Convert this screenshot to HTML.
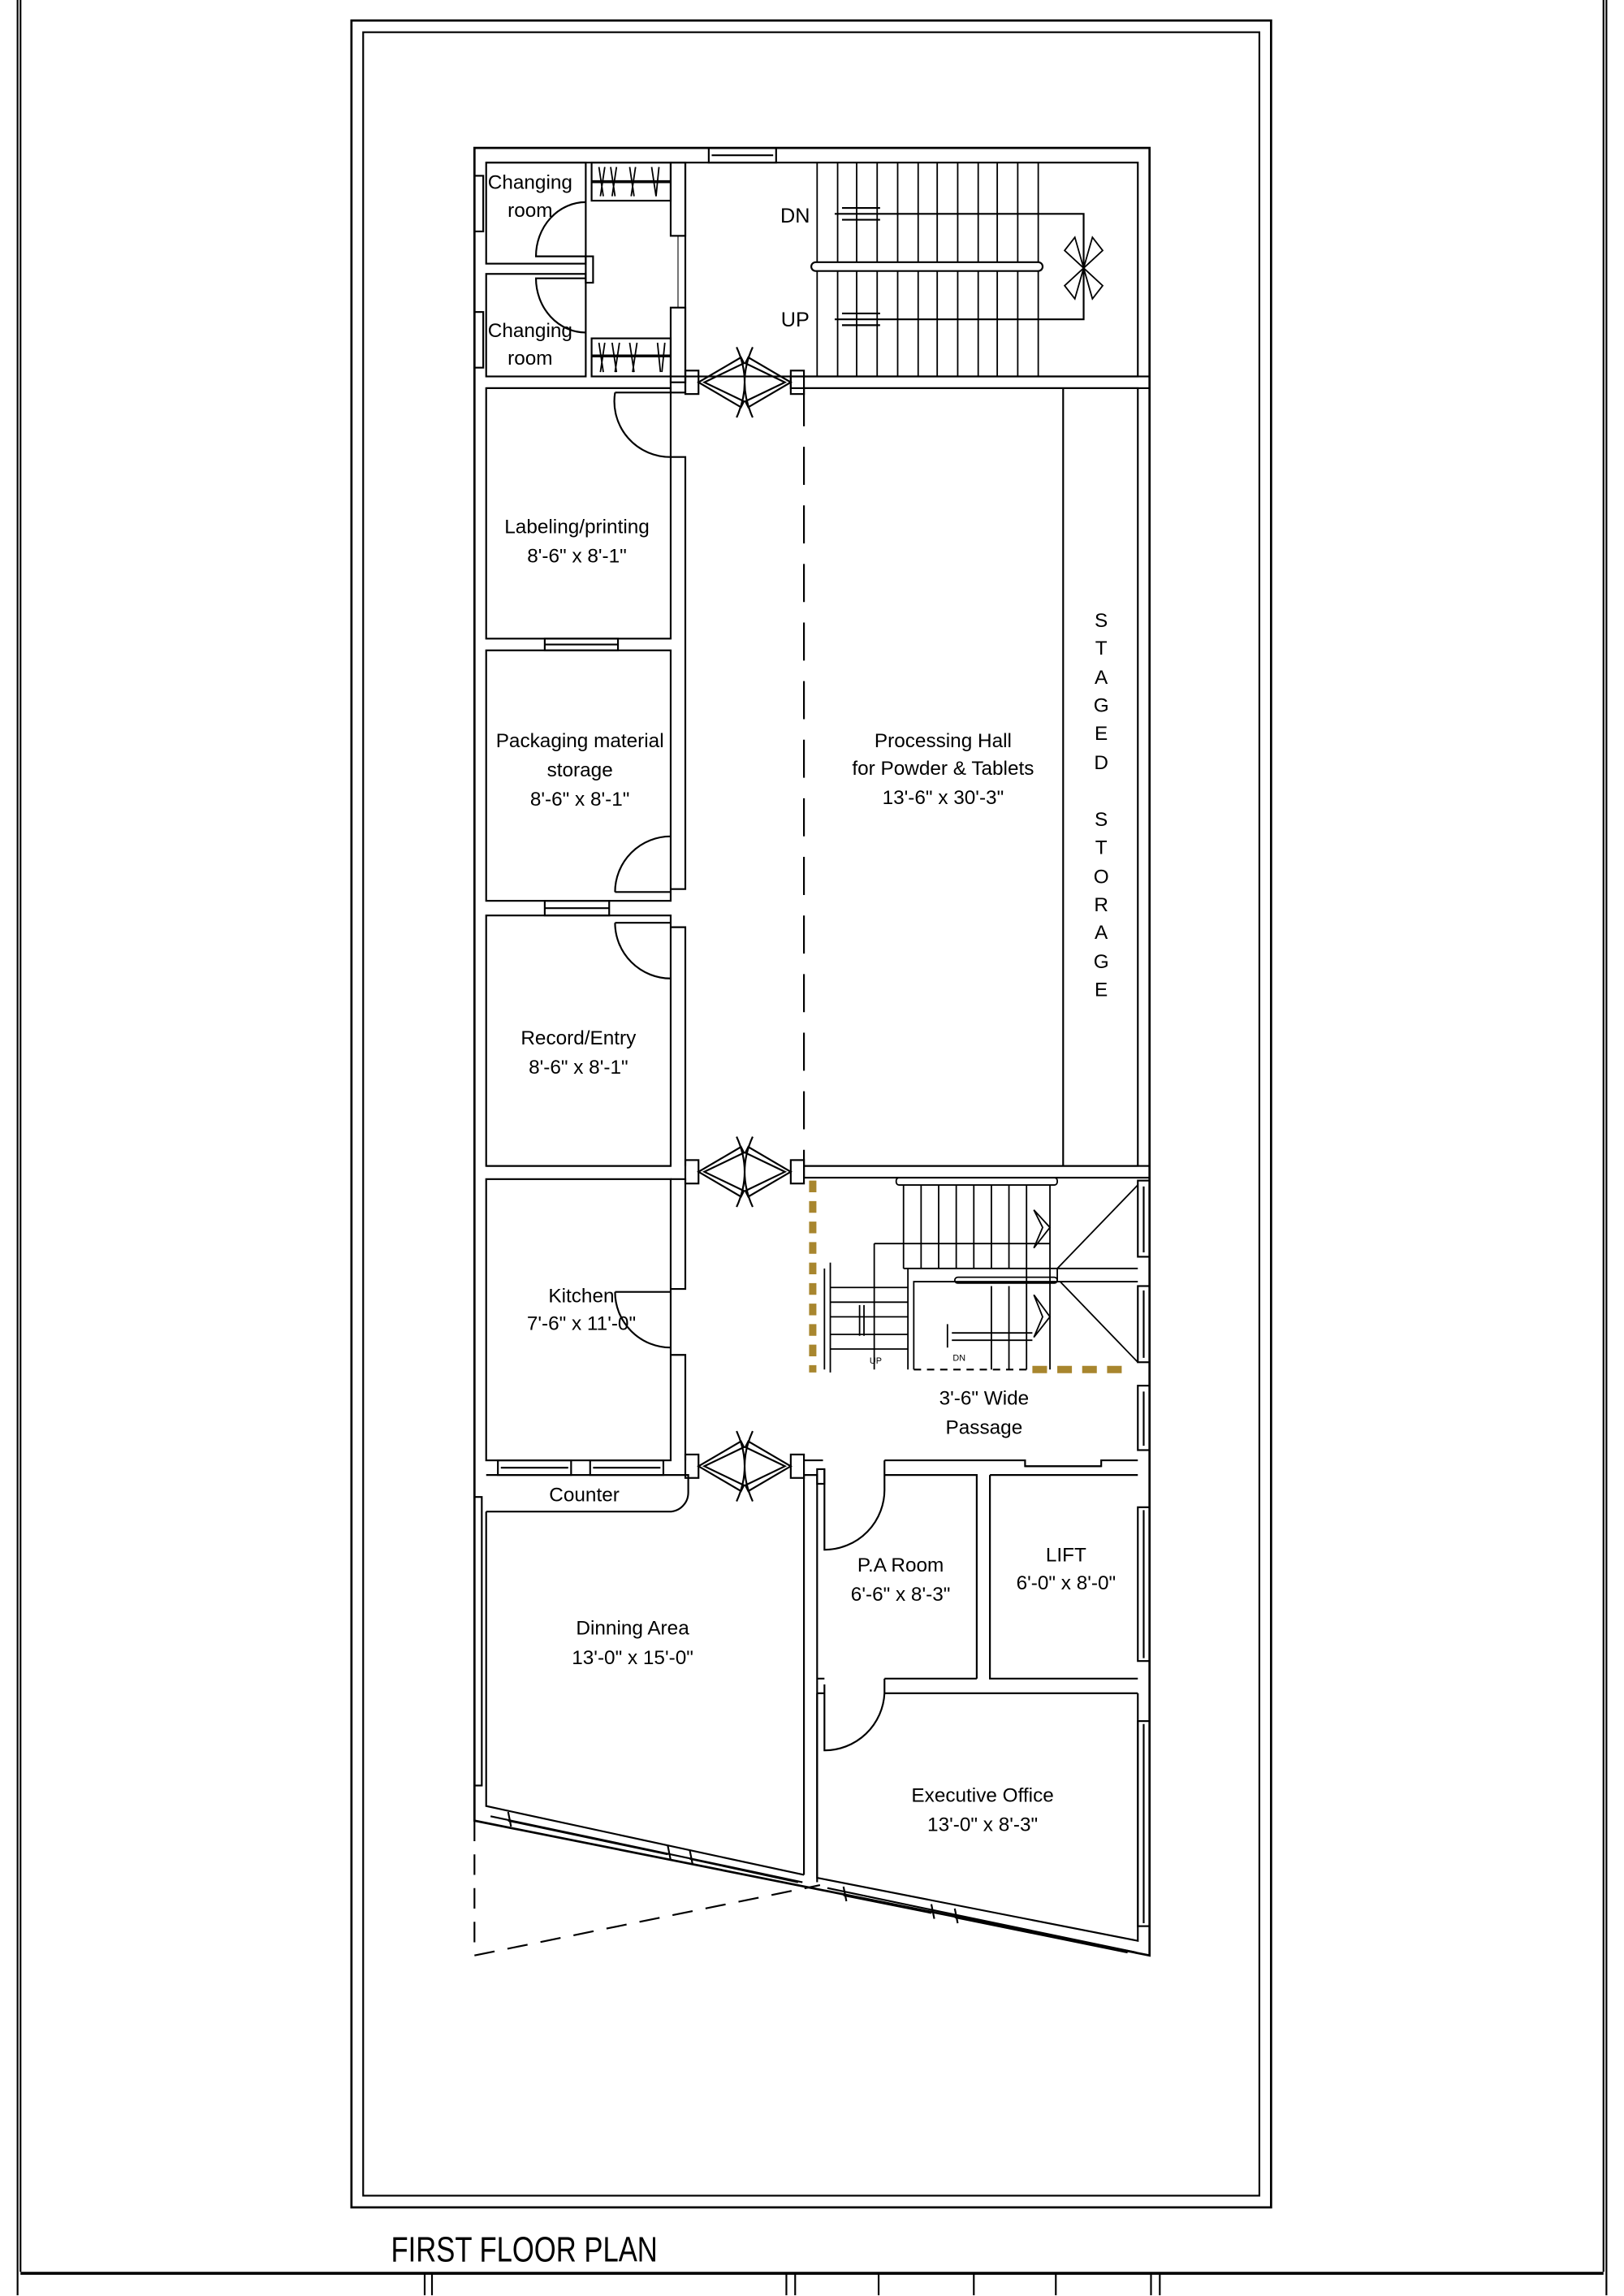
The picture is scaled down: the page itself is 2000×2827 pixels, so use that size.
<!DOCTYPE html>
<html><head><meta charset="utf-8"><style>
html,body{margin:0;padding:0;background:#fff}
svg{display:block}
text{font-family:"Liberation Sans",sans-serif;font-size:13.5px;fill:#000;text-anchor:middle}
</style></head><body>
<svg width="2000" height="2827" viewBox="0 0 1109 1567.5" preserveAspectRatio="none" xmlns="http://www.w3.org/2000/svg">
<g fill="none" stroke="#000" stroke-width="1.2">
<!-- page borders -->
<line x1="12" y1="0" x2="12" y2="1567"/><line x1="14" y1="0" x2="14" y2="1551"/>
<line x1="1097" y1="0" x2="1097" y2="1567"/><line x1="1095" y1="0" x2="1095" y2="1551"/>
<rect x="240" y="14" width="628" height="1493" stroke-width="1.5"/>
<rect x="248" y="22" width="612" height="1477"/>
<!-- title block -->
<line x1="14" y1="1552" x2="1095" y2="1552" stroke-width="2"/>
<line x1="290" y1="1552" x2="290" y2="1567"/><line x1="295" y1="1552" x2="295" y2="1567"/>
<line x1="537" y1="1552" x2="537" y2="1567"/><line x1="543" y1="1552" x2="543" y2="1567"/>
<line x1="600" y1="1552" x2="600" y2="1567"/><line x1="665" y1="1552" x2="665" y2="1567"/>
<line x1="721" y1="1552" x2="721" y2="1567"/><line x1="786" y1="1552" x2="786" y2="1567"/>
<line x1="792" y1="1552" x2="792" y2="1567"/>

<!-- building outer wall -->
<path d="M324,101 H785 V1335 L324,1243 Z" stroke-width="1.5"/>
<line x1="332" y1="111" x2="468" y2="111"/>
<!-- changing rooms -->
<rect x="332" y="111" width="68" height="69"/>
<rect x="332" y="187" width="68" height="70"/>
<rect x="404" y="111" width="54" height="26"/>
<rect x="404" y="231" width="54" height="26"/>
<line x1="404" y1="124" x2="458" y2="124" stroke-width="2"/>
<line x1="404" y1="243" x2="458" y2="243" stroke-width="2"/>
<path d="M409,114 l3,20 M413,114 l-3,20 M417,114 l3,20 M421,114 l-3,20 M430,114 l3,20 M434,114 l-3,20 M445,114 l3,20 M450,114 l-2,20 M409,234 l3,20 M413,234 l-3,20 M418,234 l3,20 M423,234 l-3,20 M430,234 l3,20 M435,234 l-3,20 M449,234 l2,20 M454,234 l-2,20" stroke-width="1"/>
<path d="M400,138 A34,37 0 0 0 366,175 H400 M400,227 A34,37 0 0 1 366,190 H400" />
<rect x="400" y="175" width="5" height="18"/>
<!-- changing room windows -->
<rect x="324" y="120" width="6" height="38"/><rect x="324" y="213" width="6" height="38"/>
<!-- top window -->
<rect x="484" y="101" width="46" height="10"/><line x1="486" y1="106" x2="528" y2="106"/>
<!-- corridor wall upper -->
<rect x="458" y="111" width="10" height="50"/>
<rect x="458" y="210" width="10" height="51"/>
<line x1="463" y1="161" x2="463" y2="210" stroke-width="0.6"/>
<!-- stair room -->
<rect x="468" y="111" width="309" height="146"/>
<g stroke-width="1">
<line x1="558" y1="111" x2="558" y2="257"/><line x1="572" y1="111" x2="572" y2="257"/><line x1="585" y1="111" x2="585" y2="257"/><line x1="599" y1="111" x2="599" y2="257"/><line x1="613" y1="111" x2="613" y2="257"/><line x1="627" y1="111" x2="627" y2="257"/><line x1="640" y1="111" x2="640" y2="257"/><line x1="654" y1="111" x2="654" y2="257"/><line x1="668" y1="111" x2="668" y2="257"/><line x1="681" y1="111" x2="681" y2="257"/><line x1="695" y1="111" x2="695" y2="257"/><line x1="709" y1="111" x2="709" y2="257"/>
</g>
<rect x="554" y="179" width="158" height="6" rx="3" fill="#fff"/>
<path d="M570,146 H740 V218 H570"/>
<path d="M575,142 H601 M575,150 H601 M575,214 H601 M575,222 H601"/>
<path d="M740,183 L727,171 L734,162 Z M740,183 L753,171 L746,162 Z M740,183 L727,195 L734,204 Z M740,183 L753,195 L746,204 Z" fill="#fff" stroke-width="1"/>
<!-- wall under stairs -->
<rect x="540" y="257" width="245" height="8"/>
<line x1="332" y1="265" x2="458" y2="265"/>
<rect x="458" y="257" width="10" height="11"/>
<!-- left column rooms -->
<rect x="332" y="265" width="126" height="171"/>
<rect x="332" y="444" width="126" height="171"/>
<rect x="332" y="625" width="126" height="171"/>
<rect x="332" y="805" width="126" height="192"/>
<rect x="372" y="436" width="50" height="8"/><line x1="372" y1="440" x2="422" y2="440"/>
<rect x="372" y="615" width="44" height="10"/><line x1="372" y1="620" x2="416" y2="620"/>
<rect x="340" y="997" width="50" height="10"/><rect x="403" y="997" width="50" height="10"/>
<line x1="342" y1="1002" x2="388" y2="1002"/><line x1="405" y1="1002" x2="451" y2="1002"/>
<!-- corridor wall -->
<path d="M458,312 H468 V607 H458 M458,633 H468 V796 M458,805 H468 V880 H458 M458,925 H468 V997"/>
<!-- doors in corridor -->
<path d="M420,268 H458 M420,268 A38,38 0 0 0 458,312"/>
<path d="M420,609 H458 M420,609 A38,38 0 0 1 458,571"/>
<path d="M420,630 H458 M420,630 A38,38 0 0 0 458,668"/>
<path d="M420,882 H458 M420,882 A38,38 0 0 0 458,920"/>
<!-- double doors -->
<g>
<rect x="468" y="253" width="9" height="16"/><rect x="540" y="253" width="9" height="16"/>
<path d="M477,261 L506,244 L508,248 L481,261 L508,274 L506,278 Z M540,261 L511,244 L509,248 L536,261 L509,274 L511,278 Z"/>
<path d="M503,237 Q514,261 503,285 M514,237 Q503,261 514,285"/>
<rect x="468" y="792" width="9" height="16"/><rect x="540" y="792" width="9" height="16"/>
<path d="M477,800 L506,783 L508,787 L481,800 L508,813 L506,817 Z M540,800 L511,783 L509,787 L536,800 L509,813 L511,817 Z"/>
<path d="M503,776 Q514,800 503,824 M514,776 Q503,800 514,824"/>
<rect x="468" y="993" width="9" height="16"/><rect x="540" y="993" width="9" height="16"/>
<path d="M477,1001 L506,984 L508,988 L481,1001 L508,1014 L506,1018 Z M540,1001 L511,984 L509,988 L536,1001 L509,1014 L511,1018 Z"/>
<path d="M503,977 Q514,1001 503,1025 M514,977 Q503,1001 514,1025"/>
</g>
<!-- processing hall -->
<line x1="549" y1="265" x2="549" y2="796" stroke-dasharray="26,14"/>
<path d="M549,265 H777 V796 H549"/>
<line x1="726" y1="265" x2="726" y2="796"/>
<rect x="549" y="796" width="236" height="8"/>
<line x1="332" y1="796" x2="458" y2="796"/>
<!-- second stair -->
<g stroke-width="1">
<path d="M617,809 V866 M629,809 V866 M641,809 V866 M653,809 V866 M665,809 V866 M677,809 V866 M689,809 V866 M701,809 V935 M717,809 V935 M689,878 V935 M677,878 V935"/>
<rect x="612" y="804" width="110" height="5" rx="2"/>
<rect x="652" y="872" width="70" height="4" rx="2"/>
<path d="M597,849 H717 M617,866 H722 V875 H624 V935 M620,866 V935"/>
<path d="M563,866 V935 M567,862 V937 M567,879 H620 M567,889 H620 M567,899 H620 M567,911 H620 M567,921 H620 M597,849 V935 M587,891 V912 M590,891 V912"/>
<path d="M647,904 V920 M650,910 H705 M650,915 H705"/>
<path d="M706,826 L717,838 L706,852 L712,838 Z M706,884 L717,899 L706,913 L712,899 Z"/>
<path d="M722,866 L777,809 M724,875 L777,930 M722,866 H777 M722,875 H777"/>
</g>
<path d="M624,935 H705" stroke-dasharray="5,4"/>
<g stroke="#a8862e" stroke-width="5" fill="none">
<line x1="555" y1="806" x2="555" y2="937" stroke-dasharray="8,6"/>
<line x1="705" y1="935" x2="770" y2="935" stroke-dasharray="10,7"/>
</g>
<!-- right side windows -->
<rect x="777" y="806" width="8" height="52"/><rect x="777" y="878" width="8" height="52"/><rect x="777" y="946" width="8" height="44"/>
<rect x="777" y="1029" width="8" height="105"/><rect x="777" y="1175" width="8" height="140"/>
<line x1="781" y1="810" x2="781" y2="855"/><line x1="781" y1="881" x2="781" y2="927"/><line x1="781" y1="950" x2="781" y2="987"/><line x1="781" y1="1031" x2="781" y2="1132"/><line x1="781" y1="1177" x2="781" y2="1313"/>
<!-- passage bottom walls -->
<path d="M549,997 H562 M549,1007 H558 V1285 M549,1007 V1280"/>
<path d="M604,997 H700 V1001 H752 V997 H777 M604,1007 H667 V1146 M676,1007 V1146 H777 M676,1007 H777"/>
<line x1="700" y1="1001" x2="752" y2="1001"/>
<path d="M563,1003 V1058 A41,41 0 0 0 604,1016 V997"/>
<path d="M558,1146 H563 M604,1146 H667 M558,1156 H563 M604,1156 H777"/>
<path d="M563,1150 V1195 A41,41 0 0 0 604,1156 V1146"/>
<rect x="558" y="1003" width="5" height="10"/>
<!-- counter & dining -->
<path d="M332,1007 H470 V1019 A13,13 0 0 1 457,1032 H332"/>
<path d="M332,1032 V1233 L549,1280"/>
<rect x="324" y="1022" width="5" height="197"/>
<!-- exec office -->
<path d="M558,1156 V1282 L777,1325 V1156"/>
<!-- slanted wall detail -->
<path d="M335,1240 L548,1285 M347,1243 L456,1266 M471,1269 L545,1285 M565,1289 L776,1333 M576,1294 L636,1306 M652,1309 L770,1333"/>
<path d="M347,1237 L349,1247 M456,1260 L458,1270 M471,1263 L473,1273 M576,1288 L578,1298 M636,1300 L638,1310 M652,1303 L654,1313"/>
<!-- dashed outside -->
<path d="M324,1243 V1335 L560,1287" stroke-dasharray="14,9"/>
</g>
<!-- text -->
<text x="362" y="129">Changing</text><text x="362" y="148">room</text>
<text x="362" y="230">Changing</text><text x="362" y="249">room</text>
<text x="543" y="152" style="font-size:14px">DN</text>
<text x="543" y="223" style="font-size:14px">UP</text>
<text x="394" y="364">Labeling/printing</text><text x="394" y="384">8'-6" x 8'-1"</text>
<text x="396" y="510">Packaging material</text><text x="396" y="530">storage</text><text x="396" y="550">8'-6" x 8'-1"</text>
<text x="644" y="510">Processing Hall</text><text x="644" y="529">for Powder &amp; Tablets</text><text x="644" y="549">13'-6" x 30'-3"</text>
<g style="font-size:13.5px">
<text x="752" y="428">S</text><text x="752" y="447">T</text><text x="752" y="467">A</text><text x="752" y="486">G</text><text x="752" y="505">E</text><text x="752" y="525">D</text>
<text x="752" y="564">S</text><text x="752" y="583">T</text><text x="752" y="603">O</text><text x="752" y="622">R</text><text x="752" y="641">A</text><text x="752" y="661">G</text><text x="752" y="680">E</text>
</g>
<text x="395" y="713">Record/Entry</text><text x="395" y="733">8'-6" x 8'-1"</text>
<text x="397" y="889">Kitchen</text><text x="397" y="908">7'-6" x 11'-0"</text>
<text x="598" y="931" style="font-size:6px">UP</text><text x="655" y="929" style="font-size:6px">DN</text>
<text x="672" y="959">3'-6" Wide</text><text x="672" y="979">Passage</text>
<text x="399" y="1025">Counter</text>
<text x="432" y="1116">Dinning Area</text><text x="432" y="1136">13'-0" x 15'-0"</text>
<text x="615" y="1073">P.A Room</text><text x="615" y="1093">6'-6" x 8'-3"</text>
<text x="728" y="1066">LIFT</text><text x="728" y="1085">6'-0" x 8'-0"</text>
<text x="671" y="1230">Executive Office</text><text x="671" y="1250">13'-0" x 8'-3"</text>
<text x="0" y="0" transform="translate(358,1544) scale(0.8,1)" style="font-size:24px">FIRST FLOOR PLAN</text>
</svg>
</body></html>
